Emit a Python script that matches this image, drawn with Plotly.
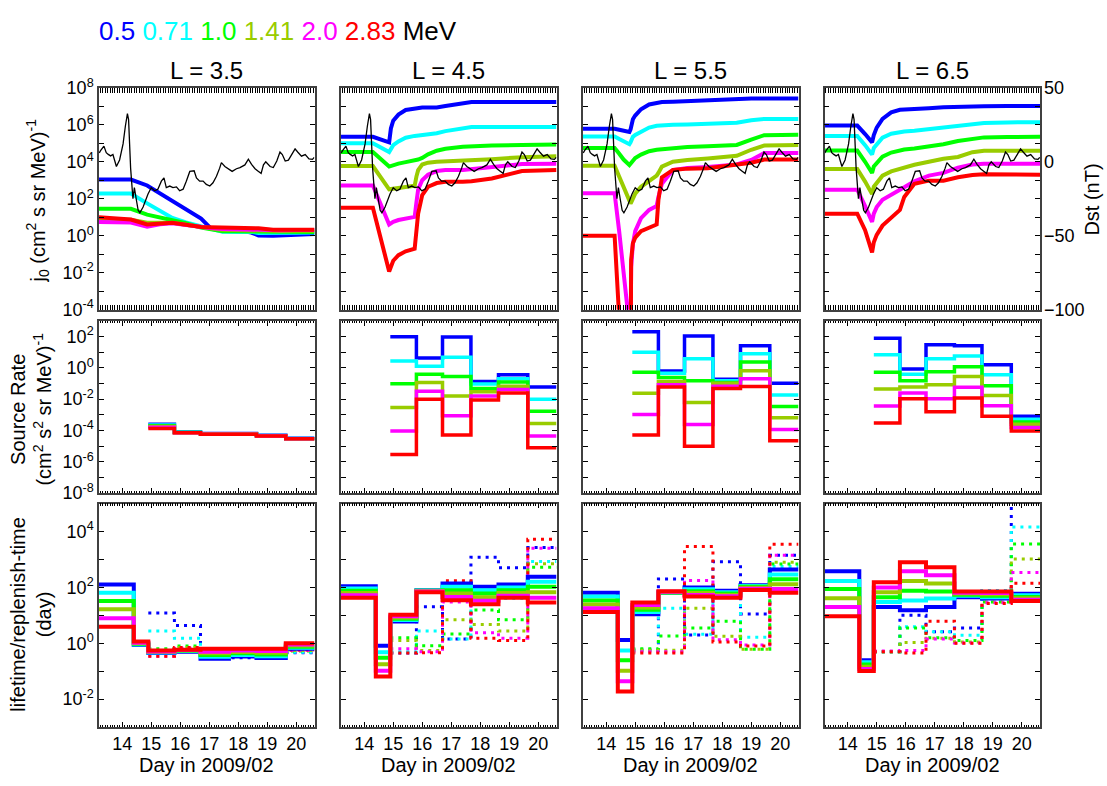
import plotly.graph_objects as go

FIG_W, FIG_H = 1107, 786
FONT = "Liberation Sans, Arial, Helvetica, sans-serif"

# ---------------------------------------------------------------- data
ENERGY_LABELS = ["0.5", "0.71", "1.0", "1.41", "2.0", "2.83"]
ENERGY_COLORS = ["#0000ff", "#00ffff", "#00ff00", "#99cc00", "#ff00ff", "#ff0000"]
L_SHELLS = ["3.5", "4.5", "5.5", "6.5"]
DAY_TICKS = [14, 15, 16, 17, 18, 19, 20]
DAY_RANGE = [13.2, 20.63]
DST_TICKS = [-100, -50, 0, 50]

# Dst index (nT)
DST_DAY = [13.21, 13.26, 13.37, 13.45, 13.52, 13.60, 13.68, 13.80, 13.91, 14.03,
           14.11, 14.18, 14.22, 14.29, 14.37, 14.42, 14.49, 14.55, 14.61, 14.72,
           14.89, 15.00, 15.12, 15.23, 15.35, 15.44, 15.52, 15.64, 15.75, 15.87,
           15.98, 16.10, 16.21, 16.33, 16.48, 16.56, 16.67, 16.79, 16.90, 17.02,
           17.13, 17.25, 17.36, 17.42, 17.54, 17.65, 17.79, 17.94, 18.06, 18.23,
           18.35, 18.46, 18.58, 18.70, 18.79, 18.87, 18.95, 19.10, 19.21, 19.33,
           19.44, 19.52, 19.62, 19.73, 19.85, 19.96, 20.05, 20.18, 20.31, 20.44,
           20.56, 20.62]
DST_NT = [6.0, 7.8, 10.6, 6.2, 5.0, 4.0, 4.9, -3.2, 1.2, 12.1,
          24.2, 32.5, 28.5, -4.3, -25.0, -17.5, -26.0, -32.8, -34.5, -30.6,
          -21.8, -17.5, -19.6, -18.5, -13.1, -10.9, -17.5, -16.4, -17.5, -17.0,
          -19.6, -18.5, -13.1, -6.5, -6.1, -10.9, -13.1, -13.1, -15.3, -16.4,
          -14.2, -9.8, -4.3, -0.6, -3.2, -4.7, -6.5, -4.7, -3.9, -2.1,
          1.8, -1.7, -4.7, -6.5, -7.8, -2.1, 0.0, -3.2, -3.9, 0.5,
          6.6, 4.9, 0.5, 1.1, 5.5, 8.7, 6.6, 3.8, 4.9, 2.0,
          1.6, 3.0]

# Flux j0: log10 values, one row per energy
# (0.5, 0.71, 1.0, 1.41, 2.0, 2.83 MeV)
FLUX_DAY_L35 = [13.2, 14.3, 14.86, 15.3, 15.73, 16.2, 16.72, 17.03, 17.46, 18.0,
                18.45, 18.7, 19.2, 19.44, 20.0, 20.63]
LOGJ_L35 = [
    [3.04, 3.04, 2.72, 2.30, 1.88, 1.43, 0.93, 0.44, 0.38, 0.30, 0.17, 0.02, 0.00, 0.02, 0.08, 0.10],
    [2.28, 2.28, 1.75, 1.35, 0.96, 0.72, 0.53, 0.38, 0.21, 0.20, 0.21, 0.15, 0.14, 0.14, 0.16, 0.17],
    [1.46, 1.46, 1.14, 0.98, 0.86, 0.68, 0.44, 0.36, 0.25, 0.24, 0.23, 0.22, 0.21, 0.21, 0.21, 0.21],
    [0.88, 0.86, 0.70, 0.72, 0.70, 0.60, 0.46, 0.40, 0.33, 0.30, 0.30, 0.28, 0.26, 0.26, 0.27, 0.27],
    [0.74, 0.72, 0.49, 0.62, 0.68, 0.58, 0.47, 0.42, 0.37, 0.34, 0.33, 0.31, 0.30, 0.30, 0.31, 0.31],
    [1.00, 0.88, 0.61, 0.68, 0.70, 0.60, 0.47, 0.46, 0.45, 0.44, 0.44, 0.40, 0.33, 0.32, 0.32, 0.32],
]

FLUX_DAY_L45 = [13.2, 14.3, 14.86, 14.92, 15.0, 15.18, 15.43, 15.74, 15.8, 15.86,
                16.0, 16.2, 16.5, 16.8, 17.4, 17.7, 18.4, 19.44, 20.63]
LOGJ_L45 = [
    [5.35, 5.35, 5.05, 5.80, 6.22, 6.55, 6.80, 6.90, 6.91, 6.92, 6.93, 6.93, 6.94, 7.02, 7.19, 7.23, 7.23, 7.23, 7.23],
    [5.00, 5.00, 4.53, 4.72, 4.90, 5.10, 5.30, 5.40, 5.41, 5.42, 5.44, 5.48, 5.54, 5.66, 5.84, 5.88, 5.88, 5.88, 5.88],
    [4.53, 4.53, 3.74, 3.78, 3.82, 3.90, 3.98, 4.07, 4.09, 4.12, 4.21, 4.40, 4.60, 4.70, 4.81, 4.84, 4.88, 4.91, 4.93],
    [3.77, 3.77, 2.51, 2.52, 2.53, 2.56, 2.60, 2.70, 3.20, 3.55, 3.85, 3.95, 4.00, 4.02, 4.03, 4.05, 4.14, 4.25, 4.30],
    [2.72, 2.72, 0.61, 0.68, 0.75, 0.85, 0.93, 1.02, 1.80, 2.50, 3.00, 3.30, 3.50, 3.55, 3.55, 3.60, 3.68, 3.88, 3.90],
    [1.51, 1.51, -1.93, -1.60, -1.35, -1.05, -0.84, -0.70, 0.30, 1.20, 2.20, 2.65, 2.85, 2.92, 2.92, 2.95, 3.10, 3.50, 3.55],
]

FLUX_DAY_L55 = [13.2, 14.29, 14.45, 14.6, 14.8, 14.84, 14.86, 14.92, 15.0, 15.2,
                15.48, 15.74, 15.8, 15.92, 16.3, 16.8, 17.5, 18.5, 19.0, 19.45, 20.63]
LOGJ_L55 = [
    [5.79, 5.79, 5.73, 5.67, 5.61, 5.75, 5.95, 6.30, 6.50, 6.84, 7.10, 7.20, 7.21, 7.23, 7.25, 7.28, 7.37, 7.41, 7.42, 7.42, 7.42],
    [5.37, 5.37, 5.23, 5.09, 4.95, 5.05, 5.15, 5.35, 5.45, 5.62, 5.85, 5.95, 5.96, 5.97, 6.00, 6.02, 6.06, 6.11, 6.25, 6.32, 6.32],
    [4.74, 4.74, 4.43, 4.12, 3.82, 3.90, 3.98, 4.10, 4.20, 4.39, 4.57, 4.65, 4.66, 4.70, 4.76, 4.80, 4.84, 4.91, 5.20, 5.44, 5.46],
    [3.79, 3.79, 3.19, 2.62, 1.87, 1.75, 1.80, 2.00, 2.28, 2.65, 2.98, 3.25, 3.40, 3.74, 4.00, 4.10, 4.18, 4.32, 4.65, 4.88, 4.91],
    [2.30, 2.30, 0.20, -1.80, -4.40, -5.50, -1.70, -0.45, 0.25, 0.95, 1.40, 1.61, 2.10, 2.81, 3.55, 3.66, 3.72, 3.86, 4.10, 4.47, 4.47],
    [0.00, 0.00, -4.50, -7.00, -8.00, -8.00, -1.30, -0.40, -0.10, 0.25, 0.44, 0.61, 1.93, 3.16, 3.56, 3.63, 3.65, 3.86, 3.95, 4.12, 4.12],
]

FLUX_DAY_L65 = [13.2, 14.33, 14.6, 14.84, 14.9, 15.0, 15.2, 15.5, 15.8, 15.95,
                16.3, 16.8, 17.3, 17.8, 18.3, 18.7, 19.5, 20.63]
LOGJ_L65 = [
    [5.96, 5.96, 5.50, 5.05, 5.45, 5.85, 6.32, 6.67, 6.81, 6.83, 6.84, 6.90, 6.95, 6.98, 7.00, 7.01, 7.02, 7.02],
    [5.40, 5.40, 4.90, 4.39, 4.75, 4.96, 5.30, 5.52, 5.62, 5.64, 5.68, 5.76, 5.84, 5.96, 6.04, 6.10, 6.13, 6.14],
    [4.61, 4.61, 4.00, 3.39, 3.75, 3.95, 4.28, 4.50, 4.62, 4.66, 4.72, 4.83, 4.95, 5.12, 5.26, 5.32, 5.34, 5.35],
    [3.61, 3.61, 2.93, 2.25, 2.65, 2.88, 3.25, 3.48, 3.62, 3.70, 3.84, 4.00, 4.16, 4.26, 4.52, 4.60, 4.61, 4.60],
    [2.49, 2.49, 1.60, 0.75, 1.20, 1.55, 1.95, 2.20, 2.46, 2.62, 2.95, 3.25, 3.40, 3.68, 3.85, 3.89, 3.89, 3.89],
    [1.19, 1.19, 0.30, -0.90, -0.35, 0.05, 0.55, 1.00, 1.40, 2.10, 2.81, 2.98, 2.98, 3.16, 3.28, 3.32, 3.32, 3.30],
]

# Boundaries (day) of the fitting windows used for the step quantities
WINDOW_EDGES = [13.2, 14.4, 14.9, 15.8, 16.7, 17.68, 18.63, 19.64, 20.63]

# log10 source rate, one value per window from 14.9 on
LOGS_L35 = [
    [-3.60, -4.10, -4.20, -4.20, -4.30, -4.50],
    [-3.65, -4.12, -4.21, -4.21, -4.32, -4.51],
    [-3.70, -4.13, -4.22, -4.22, -4.33, -4.52],
    [-3.74, -4.14, -4.23, -4.23, -4.34, -4.52],
    [-3.80, -4.14, -4.24, -4.24, -4.35, -4.53],
    [-3.87, -4.14, -4.24, -4.24, -4.35, -4.53],
]
LOGS_L45 = [
    [1.99, 0.62, 1.97, -0.87, -0.45, -1.22],
    [0.43, 0.10, 0.68, -1.04, -0.70, -2.00],
    [-1.01, -0.41, -0.56, -1.32, -0.91, -2.78],
    [-2.53, -0.93, -1.80, -1.53, -1.18, -3.56],
    [-4.04, -1.49, -3.06, -1.80, -1.39, -4.35],
    [-5.53, -2.00, -4.29, -2.05, -1.60, -5.11],
]
LOGS_L55 = [
    [2.30, -0.20, 2.03, -0.73, 1.41, -0.98],
    [0.99, -0.35, 0.58, -0.83, 0.89, -1.74],
    [-0.29, -0.62, -0.83, -0.93, 0.37, -2.47],
    [-1.63, -0.87, -2.22, -0.98, -0.19, -3.19],
    [-2.98, -1.08, -3.62, -1.18, -0.70, -3.93],
    [-4.29, -1.22, -5.01, -1.32, -1.20, -4.66],
]
LOGS_L65 = [
    [1.88, -0.08, 1.47, 1.41, 0.20, -3.09],
    [0.83, -0.41, 0.58, 0.75, -0.45, -3.29],
    [-0.29, -0.83, -0.25, 0.06, -1.14, -3.46],
    [-1.35, -1.22, -1.08, -0.56, -1.76, -3.60],
    [-2.44, -1.60, -1.97, -1.24, -2.42, -3.81],
    [-3.52, -1.97, -2.80, -1.93, -3.09, -4.04],
]

# log10 lifetime (day), one value per window
LOGTAU_L35 = [
    [2.10, -0.06, -0.35, -0.30, -0.55, -0.47, -0.53, -0.20],
    [1.81, -0.04, -0.33, -0.28, -0.48, -0.42, -0.46, -0.16],
    [1.51, -0.02, -0.31, -0.26, -0.42, -0.36, -0.40, -0.12],
    [1.22, 0.00, -0.30, -0.25, -0.36, -0.31, -0.34, -0.08],
    [0.90, 0.02, -0.29, -0.24, -0.30, -0.26, -0.28, -0.04],
    [0.59, 0.06, -0.26, -0.23, -0.20, -0.20, -0.20, 0.00],
]
LOGTAU_L45 = [
    [2.04, -0.09, 0.78, 1.90, 2.14, 2.02, 2.10, 2.38],
    [1.96, -0.32, 0.83, 1.89, 2.02, 1.90, 2.00, 2.20],
    [1.88, -0.52, 0.88, 1.88, 1.90, 1.78, 1.90, 2.02],
    [1.80, -0.75, 0.92, 1.87, 1.78, 1.65, 1.80, 1.83],
    [1.72, -0.98, 0.97, 1.85, 1.66, 1.52, 1.70, 1.63],
    [1.63, -1.19, 1.02, 1.83, 1.54, 1.40, 1.63, 1.46],
]
LOGTAU_L55 = [
    [1.81, 0.12, 1.04, 1.80, 2.00, 1.88, 2.08, 2.64],
    [1.67, -0.26, 1.12, 1.81, 1.93, 1.83, 2.05, 2.46],
    [1.53, -0.61, 1.20, 1.82, 1.86, 1.78, 2.02, 2.29],
    [1.39, -0.98, 1.28, 1.83, 1.80, 1.73, 1.99, 2.11],
    [1.25, -1.36, 1.37, 1.84, 1.73, 1.68, 1.95, 1.94],
    [1.12, -1.73, 1.46, 1.86, 1.67, 1.63, 1.91, 1.81],
]
LOGTAU_L65 = [
    [2.58, -0.61, 1.30, 1.18, 1.30, 1.65, 1.60, 1.77],
    [2.23, -0.68, 1.48, 1.53, 1.60, 1.70, 1.65, 1.72],
    [1.94, -0.76, 1.65, 1.88, 1.85, 1.74, 1.70, 1.66],
    [1.61, -0.84, 1.83, 2.23, 2.14, 1.78, 1.75, 1.61],
    [1.30, -0.92, 2.00, 2.58, 2.43, 1.81, 1.80, 1.56],
    [0.97, -0.99, 2.18, 2.90, 2.72, 1.85, 1.85, 1.51],
]

# log10 replenish time (day), one value per window from 14.9 on
LOGREP_L35 = [
    [1.08, 0.64, -0.20, -0.52, -0.25, -0.34],
    [0.44, 0.18, -0.22, -0.45, -0.27, -0.32],
    [-0.20, -0.10, -0.22, -0.42, -0.25, -0.28],
    [-0.25, -0.15, -0.22, -0.40, -0.24, -0.26],
    [-0.46, -0.18, -0.22, -0.38, -0.24, -0.26],
    [-0.46, -0.15, -0.20, -0.36, -0.22, -0.24],
]
LOGREP_L45 = [
    [-0.35, 1.31, 0.15, 3.08, 2.70, 3.43],
    [-0.30, 0.44, 0.15, 1.90, 1.60, 2.93],
    [0.20, -0.09, 0.33, 1.19, 0.84, 2.72],
    [0.10, -0.26, 0.84, 0.67, 0.44, 2.85],
    [-0.20, -0.30, 1.48, 0.38, 0.18, 3.40],
    [-0.35, -0.34, 2.24, 0.18, 0.10, 3.72],
]
LOGREP_L55 = [
    [-0.25, 2.30, 0.30, 2.92, 1.05, 3.15],
    [-0.22, 1.25, 0.32, 1.88, 0.22, 2.75],
    [-0.20, 0.26, 0.55, 0.79, -0.21, 2.84],
    [-0.25, -0.25, 1.25, 0.25, -0.21, 2.90],
    [-0.30, -0.30, 2.25, 0.13, -0.06, 3.15],
    [-0.35, -0.35, 3.46, 0.05, -0.10, 3.54],
]
LOGREP_L65 = [
    [-0.30, 1.00, 0.41, 0.55, 1.88, 5.50],
    [-0.30, 0.59, 0.41, 0.29, 1.88, 4.16],
    [-0.30, 0.55, 0.20, 0.10, 1.48, 3.55],
    [-0.30, 0.03, 0.18, 0.05, 1.48, 3.02],
    [-0.28, -0.26, 0.15, 0.01, 1.45, 2.53],
    [-0.30, -0.35, 0.79, 0.00, 1.42, 2.15],
]

FLUX_DAYS = [FLUX_DAY_L35, FLUX_DAY_L45, FLUX_DAY_L55, FLUX_DAY_L65]
LOGJ = [LOGJ_L35, LOGJ_L45, LOGJ_L55, LOGJ_L65]
LOGS = [LOGS_L35, LOGS_L45, LOGS_L55, LOGS_L65]
LOGTAU = [LOGTAU_L35, LOGTAU_L45, LOGTAU_L55, LOGTAU_L65]
LOGREP = [LOGREP_L35, LOGREP_L45, LOGREP_L55, LOGREP_L65]

# ---------------------------------------------------------------- layout geometry (pixels)
COL_PX = [(99, 314.5), (341, 556.5), (583, 798.5), (824.5, 1040)]
ROW_PX = [(78, 306.3), (317.7, 495), (505.7, 735.7)]
ROW_DECADES = [(-4, 8), (-8, 3), (-3, 5)]


def px_x(p):
    return p / FIG_W


def px_y(p):
    return 1 - p / FIG_H


def axis_key(kind, i):
    return f"{kind}axis" if i == 1 else f"{kind}axis{i}"


def axis_ref(kind, i):
    return kind if i == 1 else f"{kind}{i}"


fig = go.Figure()
layout = dict(
    width=FIG_W, height=FIG_H,
    margin=dict(l=0, r=0, t=0, b=0),
    paper_bgcolor="white", plot_bgcolor="white",
    showlegend=False,
    font=dict(family=FONT, size=18, color="black"),
)

AXIS_LINE = dict(showline=True, linecolor="#404040", linewidth=1.5,
                 mirror="allticks", showgrid=False, zeroline=False,
                 ticks="inside", tickcolor="black", tickwidth=1)

for r in range(3):
    for c in range(4):
        idx = r * 4 + c + 1
        l, rr = COL_PX[c]
        t, b = ROW_PX[r]
        lo, hi = ROW_DECADES[r]
        layout[axis_key("x", idx)] = dict(
            AXIS_LINE,
            domain=[px_x(l), px_x(rr)], anchor=axis_ref("y", idx),
            range=DAY_RANGE, tickmode="array", tickvals=DAY_TICKS,
            ticktext=[str(d) for d in DAY_TICKS], showticklabels=(r == 2),
            ticklen=5, tickfont=dict(size=18),
            minor=dict(tickmode="linear", tick0=14, dtick=1 / 12, ticks="inside",
                       ticklen=2.5, tickcolor="black", showgrid=False),
        )
        decades = list(range(lo, hi + 1))
        layout[axis_key("y", idx)] = dict(
            AXIS_LINE,
            domain=[px_y(b), px_y(t)], anchor=axis_ref("x", idx),
            type="log", range=[lo, hi], tickmode="array",
            tickvals=[10.0 ** k for k in decades],
            ticktext=[f"10<sup>{k}</sup>" if k % 2 == 0 else "" for k in decades],
            showticklabels=(c == 0), ticklen=5, tickfont=dict(size=18),
        )

# Dst axes overlaying the top row (labelled only on the right-most panel)
for c in range(4):
    i = 13 + c
    layout[axis_key("y", i)] = dict(
        overlaying=axis_ref("y", c + 1), anchor=axis_ref("x", c + 1), side="right",
        range=[-100, 50], visible=(c == 3), showgrid=False, zeroline=False,
        showline=False, tickmode="array", tickvals=DST_TICKS,
        ticktext=[str(v).replace("-", "\u2212") for v in DST_TICKS],
        ticks="inside", ticklen=5, ticklabelstandoff=3,
        tickcolor="black", tickfont=dict(size=18),
    )

# ---------------------------------------------------------------- traces
for c in range(4):
    # top row: flux with Dst overlaid
    xr, yr = axis_ref("x", c + 1), axis_ref("y", c + 1)
    for e in range(6):
        fig.add_trace(go.Scatter(
            x=FLUX_DAYS[c], y=[10.0 ** v for v in LOGJ[c][e]], mode="lines",
            line=dict(color=ENERGY_COLORS[e], width=4),
            xaxis=xr, yaxis=yr, hoverinfo="skip"))
    fig.add_trace(go.Scatter(
        x=DST_DAY, y=DST_NT, mode="lines", line=dict(color="black", width=1.3),
        xaxis=xr, yaxis=axis_ref("y", 13 + c), hoverinfo="skip"))

    # middle row: source rate
    xr, yr = axis_ref("x", 5 + c), axis_ref("y", 5 + c)
    src_edges = WINDOW_EDGES[2:]
    for e in range(6):
        vals = LOGS[c][e]
        fig.add_trace(go.Scatter(
            x=src_edges, y=[10.0 ** v for v in vals + vals[-1:]], mode="lines",
            line=dict(color=ENERGY_COLORS[e], width=3.5, shape="hv"),
            xaxis=xr, yaxis=yr, hoverinfo="skip"))

    # bottom row: replenish time (dotted) and lifetime (solid)
    xr, yr = axis_ref("x", 9 + c), axis_ref("y", 9 + c)
    for e in range(6):
        vals = LOGREP[c][e]
        fig.add_trace(go.Scatter(
            x=src_edges, y=[10.0 ** v for v in vals + vals[-1:]], mode="lines",
            line=dict(color=ENERGY_COLORS[e], width=3, shape="hv", dash="3px,5px"),
            xaxis=xr, yaxis=yr, hoverinfo="skip"))
    for e in range(6):
        vals = LOGTAU[c][e]
        fig.add_trace(go.Scatter(
            x=WINDOW_EDGES, y=[10.0 ** v for v in vals + vals[-1:]], mode="lines",
            line=dict(color=ENERGY_COLORS[e], width=4, shape="hv"),
            xaxis=xr, yaxis=yr, hoverinfo="skip"))

# ---------------------------------------------------------------- text
annotations = []
legend_html = " ".join(
    f"<span style='color:{col}'>{lab}</span>" for lab, col in zip(ENERGY_LABELS, ENERGY_COLORS)
) + " MeV"
annotations.append(dict(text=legend_html, x=px_x(97), y=px_y(19.5), xref="paper", yref="paper",
                        xanchor="left", yanchor="middle", showarrow=False,
                        font=dict(size=26, color="black")))
for c, L in enumerate(L_SHELLS):
    l, rr = COL_PX[c]
    annotations.append(dict(text=f"L = {L}", x=px_x((l + rr) / 2), y=px_y(60),
                            xref="paper", yref="paper", xanchor="center", yanchor="middle",
                            showarrow=False, font=dict(size=24)))
    annotations.append(dict(text="Day in 2009/02", x=px_x((l + rr) / 2), y=px_y(775),
                            xref="paper", yref="paper", xanchor="center", yanchor="middle",
                            showarrow=False, font=dict(size=20)))

annotations.append(dict(text="j<sub>0</sub> (cm<sup>2</sup> s sr MeV)<sup>-1</sup>",
                        x=px_x(38), y=px_y(194), xref="paper", yref="paper",
                        xanchor="center", yanchor="middle", textangle=-90,
                        showarrow=False, font=dict(size=20)))
annotations.append(dict(text="Source Rate<br>(cm<sup>2</sup> s<sup>2</sup> sr MeV)<sup>-1</sup>",
                        x=px_x(31), y=px_y(409), xref="paper", yref="paper",
                        xanchor="center", yanchor="middle", textangle=-90,
                        showarrow=False, font=dict(size=20)))
annotations.append(dict(text="lifetime/replenish-time<br>(day)",
                        x=px_x(31), y=px_y(620), xref="paper", yref="paper",
                        xanchor="center", yanchor="middle", textangle=-90,
                        showarrow=False, font=dict(size=20)))
annotations.append(dict(text="Dst (nT)", x=px_x(1092), y=px_y(193), xref="paper", yref="paper",
                        xanchor="center", yanchor="middle", textangle=-90,
                        showarrow=False, font=dict(size=20)))

layout["annotations"] = annotations
fig.update_layout(**layout)
fig.write_html("out.html")
